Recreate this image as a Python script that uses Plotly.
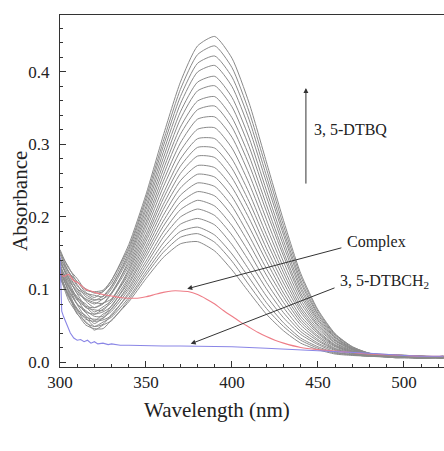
import plotly.graph_objects as go

# Wavelength grid (nm) on which the gray time-scan spectra were read
wavelength = [300, 305, 310, 315, 320, 325, 330, 340, 350, 360, 370, 380, 390,
              400, 410, 420, 430, 440, 450, 460, 470, 480, 495, 510, 523]

# Gray spectra (absorbance), lowest to highest
scan_01 = [.119, .085, .067, .051, .046, .046, .058, .083, .115, .144, .163, .166, .153, .127, .096, .066, .043, .026, .017, .011, .009, .008, .007, .006, .007]
scan_02 = [.115, .092, .066, .056, .044, .051, .057, .086, .120, .151, .172, .177, .165, .139, .106, .074, .049, .030, .019, .012, .010, .008, .009, .008, .005]
scan_03 = [.123, .089, .072, .054, .049, .055, .062, .089, .124, .157, .180, .186, .175, .149, .116, .082, .054, .033, .021, .013, .010, .008, .006, .005, .007]
scan_04 = [.117, .094, .069, .061, .049, .052, .066, .093, .129, .164, .190, .198, .189, .162, .127, .091, .061, .038, .024, .014, .010, .008, .008, .007, .006]
scan_05 = [.123, .091, .074, .059, .056, .058, .064, .096, .134, .172, .200, .211, .202, .175, .139, .101, .068, .042, .026, .016, .011, .009, .007, .006, .008]
scan_06 = [.128, .097, .072, .064, .053, .061, .070, .100, .139, .179, .210, .223, .215, .188, .151, .110, .075, .046, .029, .017, .012, .009, .009, .008, .006]
scan_07 = [.123, .100, .079, .062, .059, .060, .074, .103, .145, .187, .220, .235, .229, .202, .163, .120, .082, .051, .031, .018, .012, .009, .006, .007, .005]
scan_08 = [.129, .098, .080, .068, .057, .066, .073, .107, .150, .194, .230, .247, .242, .215, .174, .129, .089, .055, .034, .019, .013, .009, .008, .005, .007]
scan_09 = [.124, .105, .080, .071, .063, .063, .078, .110, .155, .202, .240, .259, .255, .228, .186, .139, .095, .059, .036, .021, .013, .009, .009, .008, .006]
scan_10 = [.131, .103, .087, .069, .066, .069, .077, .114, .160, .210, .250, .271, .268, .241, .198, .148, .102, .063, .039, .022, .014, .010, .007, .006, .008]
scan_11 = [.131, .108, .085, .076, .066, .073, .082, .117, .166, .217, .260, .284, .282, .254, .210, .157, .109, .068, .041, .023, .014, .010, .008, .007, .005]
scan_12 = [.136, .105, .090, .075, .072, .071, .086, .121, .171, .225, .270, .296, .295, .267, .221, .167, .116, .072, .043, .024, .015, .010, .006, .008, .007]
scan_13 = [.131, .111, .088, .080, .069, .076, .085, .125, .176, .232, .280, .308, .308, .280, .233, .176, .123, .076, .046, .026, .015, .010, .009, .005, .006]
scan_14 = [.138, .115, .094, .077, .075, .081, .087, .128, .182, .241, .291, .321, .323, .295, .246, .187, .130, .081, .049, .027, .016, .011, .007, .007, .007]
scan_15 = [.142, .112, .098, .084, .075, .080, .094, .132, .188, .249, .302, .335, .338, .310, .259, .197, .138, .086, .051, .029, .017, .011, .008, .006, .008]
scan_16 = [.138, .116, .095, .087, .082, .081, .096, .136, .193, .257, .314, .348, .353, .324, .272, .208, .146, .091, .054, .030, .017, .011, .010, .008, .006]
scan_17 = [.144, .120, .101, .086, .080, .087, .095, .140, .199, .265, .324, .360, .366, .337, .284, .217, .152, .095, .057, .031, .018, .011, .007, .007, .007]
scan_18 = [.140, .117, .101, .093, .086, .087, .101, .144, .204, .273, .335, .374, .381, .352, .297, .228, .160, .100, .059, .033, .018, .011, .009, .006, .005]
scan_19 = [.148, .124, .107, .090, .085, .091, .105, .147, .210, .281, .345, .386, .394, .365, .309, .237, .167, .104, .062, .034, .019, .011, .008, .008, .007]
scan_20 = [.142, .125, .105, .095, .092, .090, .104, .151, .215, .289, .356, .400, .409, .380, .322, .248, .175, .109, .065, .035, .019, .012, .006, .007, .006]
scan_21 = [.153, .124, .111, .096, .089, .097, .109, .155, .221, .297, .366, .412, .422, .393, .334, .257, .181, .113, .067, .037, .020, .012, .009, .005, .008]
scan_22 = [.150, .131, .110, .101, .095, .097, .113, .158, .226, .304, .376, .424, .436, .406, .345, .267, .188, .118, .070, .038, .021, .012, .008, .007, .006]
scan_23 = [.155, .129, .115, .099, .097, .099, .113, .162, .231, .312, .386, .436, .449, .419, .357, .276, .195, .122, .072, .039, .021, .012, .010, .008, .007]

scans = [scan_01, scan_02, scan_03, scan_04, scan_05, scan_06, scan_07, scan_08,
         scan_09, scan_10, scan_11, scan_12, scan_13, scan_14, scan_15, scan_16,
         scan_17, scan_18, scan_19, scan_20, scan_21, scan_22, scan_23]

# Complex (red)
complex_wl = [300, 302, 305, 308, 310, 313, 315, 318, 320, 325, 330, 335, 340, 345, 350,
              355, 360, 365, 370, 375, 380, 385, 390, 395, 400, 405, 410, 415, 420,
              425, 430, 440, 450, 460, 470, 480, 490, 500, 510, 523]
complex_abs = [.124, .118, .121, .112, .110, .104, .100, .098, .096, .093, .091, .089, .088, .088, .090,
               .093, .096, .098, .098, .097, .093, .087, .080, .071, .063, .055, .048, .041, .035,
               .030, .026, .020, .017, .015, .013, .011, .010, .009, .008, .008]

# 3,5-DTBCH2 (blue)
dtbc_wl = [300, 300.6, 301, 302, 304, 306, 308, 310, 312, 314, 316, 318, 320, 322, 325,
           328, 330, 335, 340, 350, 360, 370, 380, 390, 400, 420, 440, 460, 480, 500, 510, 523]
dtbc_abs = [.145, .090, .070, .063, .050, .040, .033, .030, .031, .028, .030, .026, .028, .025, .026,
            .024, .025, .023, .023, .022, .022, .022, .022, .021, .021, .019, .017, .015, .012, .009, .008, .008]

x_ticks = [300, 350, 400, 450, 500]
y_ticks = [0.0, 0.1, 0.2, 0.3, 0.4]

FONT = "Liberation Serif"

fig = go.Figure()
for s in scans:
    fig.add_trace(go.Scatter(x=wavelength, y=s, mode="lines",
                             line=dict(color="#8a8a8a", width=1, shape="spline", smoothing=0.6),
                             showlegend=False, hoverinfo="skip"))
fig.add_trace(go.Scatter(x=complex_wl, y=complex_abs, mode="lines",
                         line=dict(color="#ee7d87", width=1.1, shape="spline", smoothing=0.5),
                         showlegend=False))
fig.add_trace(go.Scatter(x=dtbc_wl, y=dtbc_abs, mode="lines",
                         line=dict(color="#8a86e6", width=1.1),
                         showlegend=False))

axis_common = dict(showline=True, linecolor="#333333", linewidth=1, showgrid=False,
                   zeroline=False, ticks="inside", tickcolor="#333333", ticklen=6,
                   tickfont=dict(family=FONT, size=17, color="#222222"))

fig.update_xaxes(range=[300, 523.3], tickvals=x_ticks, mirror=True,
                 minor=dict(dtick=10, tick0=300, ticks="inside", ticklen=3, tickcolor="#333333"),
                 ticklabelstandoff=0, **axis_common)
fig.update_yaxes(range=[-0.0069, 0.4786], tickvals=y_ticks, tickformat=".1f",
                 minor=dict(dtick=0.02, tick0=0, ticks="inside", ticklen=3, tickcolor="#333333"),
                 ticklabelstandoff=6, **axis_common)

ann_font = dict(family=FONT, size=16, color="#222222")
annotations = [
    # axis titles
    dict(text="Wavelength (nm)", xref="paper", yref="paper", x=0.41, y=0, yshift=-43,
         xanchor="center", yanchor="middle", showarrow=False,
         font=dict(family=FONT, size=21, color="#222222")),
    dict(text="Absorbance", xref="paper", yref="paper", x=0, xshift=-40, y=0.5, yshift=-10,
         xanchor="center", yanchor="middle", textangle=-90, showarrow=False,
         font=dict(family=FONT, size=21, color="#222222")),
    # vertical growth arrow
    dict(x=443, y=0.378, ax=443, ay=0.244, xref="x", yref="y", axref="x", ayref="y",
         text="", showarrow=True, arrowhead=2, arrowsize=1, arrowwidth=1, arrowcolor="#333333"),
    dict(text="3, 5-DTBQ", x=446.5, y=0.321, xref="x", yref="y", xanchor="left",
         yanchor="middle", showarrow=False, font=ann_font),
    # Complex
    dict(x=374, y=0.101, ax=464.5, ay=0.158, xref="x", yref="y", axref="x", ayref="y",
         text="", showarrow=True, arrowhead=2, arrowsize=1, arrowwidth=1, arrowcolor="#333333"),
    dict(text="Complex", x=465.5, y=0.166, xref="x", yref="y", xanchor="left",
         yanchor="middle", showarrow=False, font=ann_font),
    # 3,5-DTBCH2
    dict(x=376, y=0.025, ax=460.5, ay=0.103, xref="x", yref="y", axref="x", ayref="y",
         text="", showarrow=True, arrowhead=2, arrowsize=1, arrowwidth=1, arrowcolor="#333333"),
    dict(text="3, 5-DTBCH<sub>2</sub>", x=461.5, y=0.111, xref="x", yref="y", xanchor="left",
         yanchor="middle", showarrow=False, font=ann_font),
]

fig.update_layout(width=444, height=451, margin=dict(l=60, r=0, t=15, b=84),
                  paper_bgcolor="white", plot_bgcolor="white",
                  annotations=annotations, showlegend=False)

fig.write_html("out.html", config={"displayModeBar": False},
               post_script="document.body.style.margin='0px';document.body.style.overflow='hidden';")
